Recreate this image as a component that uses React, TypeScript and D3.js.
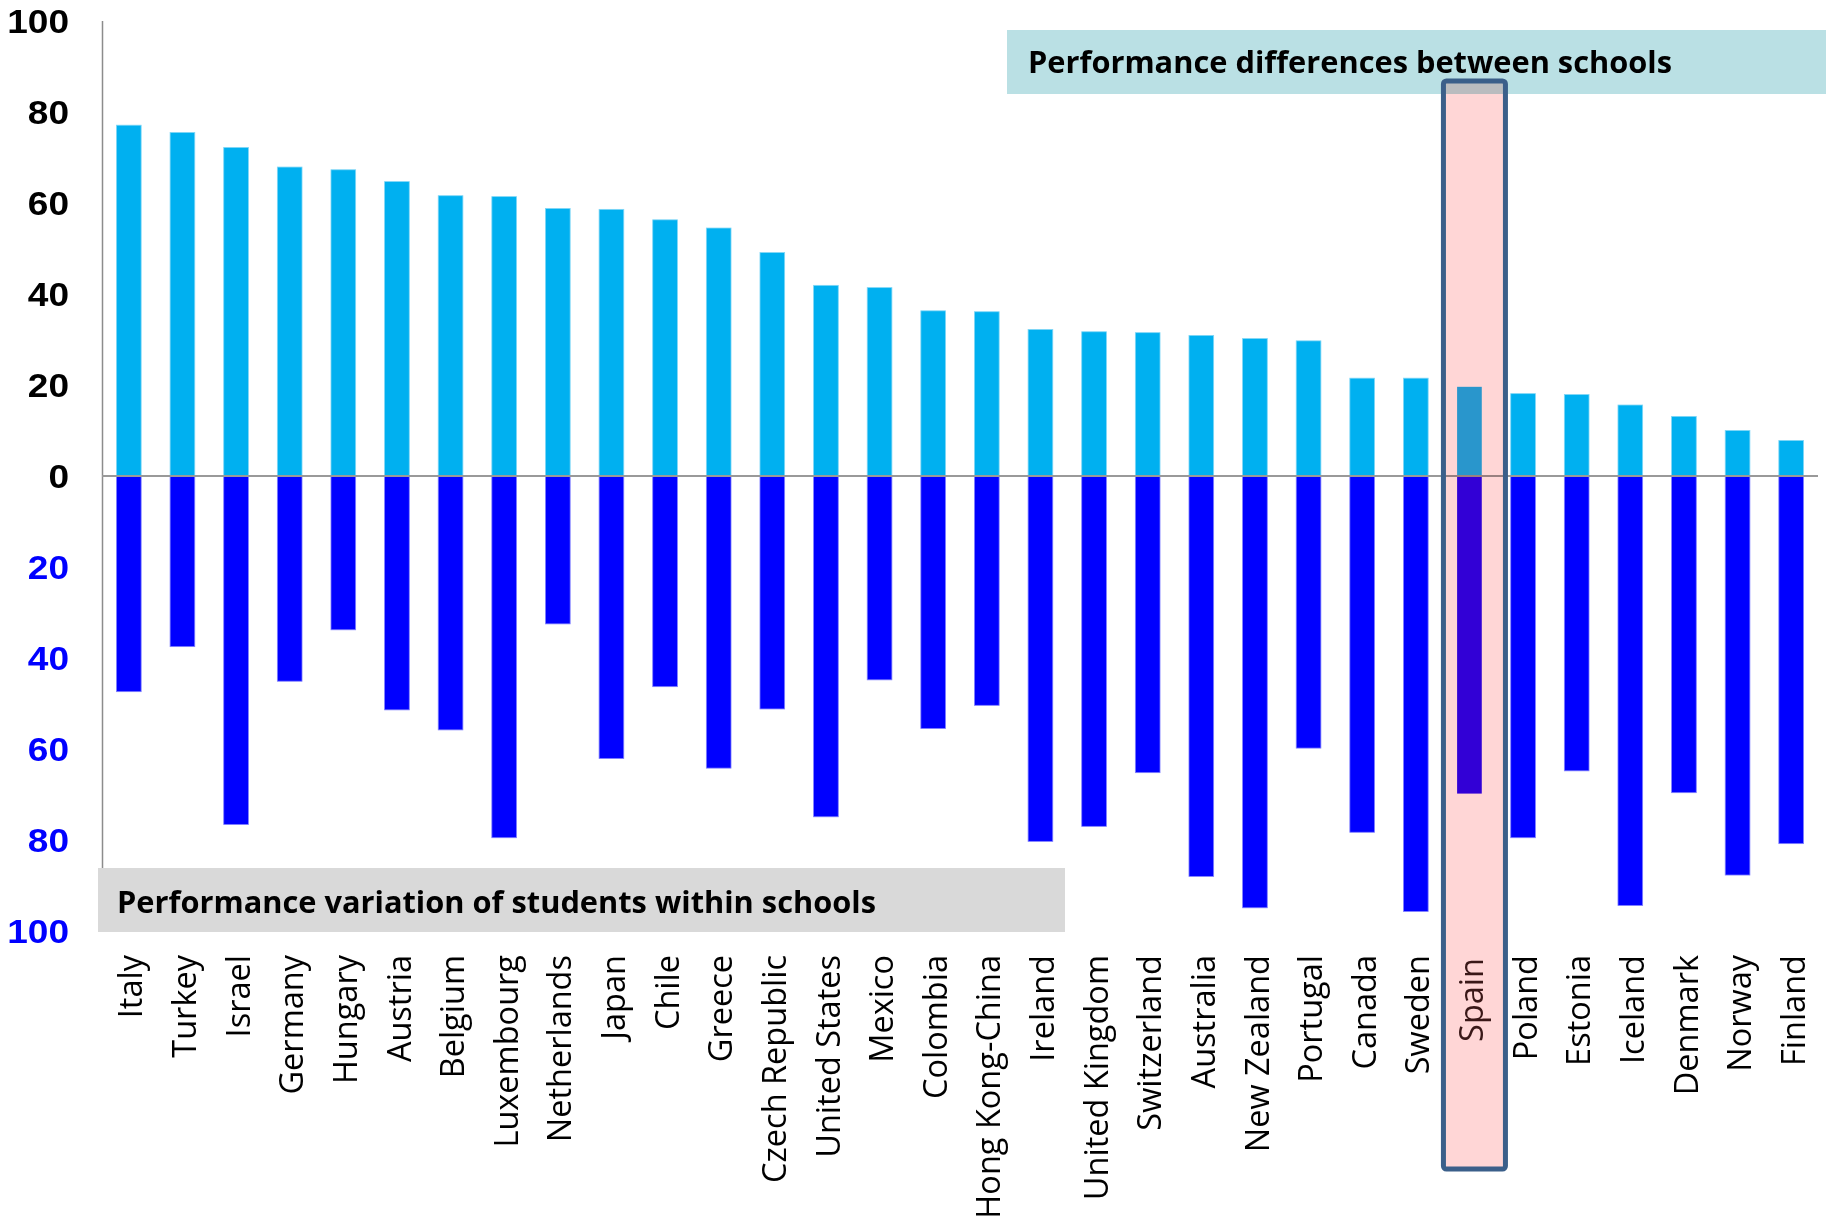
import React from "react";
import * as d3 from "d3";

const countries = [
  "Italy", "Turkey", "Israel", "Germany", "Hungary", "Austria", "Belgium", "Luxembourg",
  "Netherlands", "Japan", "Chile", "Greece", "Czech Republic", "United States", "Mexico",
  "Colombia", "Hong Kong-China", "Ireland", "United Kingdom", "Switzerland", "Australia",
  "New Zealand", "Portugal", "Canada", "Sweden", "Spain", "Poland", "Estonia", "Iceland",
  "Denmark", "Norway", "Finland",
];

// Performance differences between schools (upward bars)
const betweenSchools = [
  77.1, 75.5, 72.2, 67.9, 67.3, 64.7, 61.6, 61.4, 58.8, 58.6, 56.3, 54.5, 49.1, 41.9, 41.4,
  36.3, 36.1, 32.2, 31.7, 31.5, 30.9, 30.2, 29.7, 21.5, 21.5, 19.6, 18.1, 17.9, 15.6, 13.1,
  10.0, 7.8,
];

// Performance variation of students within schools (downward bars)
const withinSchools = [
  47.4, 37.5, 76.6, 45.1, 33.8, 51.4, 55.8, 79.5, 32.5, 62.1, 46.3, 64.2, 51.2, 74.9, 44.8,
  55.5, 50.4, 80.3, 77.0, 65.2, 88.0, 94.9, 59.8, 78.3, 95.7, 69.8, 79.5, 64.8, 94.4, 69.6,
  87.7, 80.8,
];

const upperTicks = [0, 20, 40, 60, 80, 100];
const lowerTicks = [20, 40, 60, 80, 100];

const highlighted = "Spain";
const topBannerText = "Performance differences between schools";
const bottomBannerText = "Performance variation of students within schools";

export default function App() {
  const W = 1826;
  const H = 1218;
  const x = d3
    .scaleBand<string>()
    .domain(countries)
    .range([102, 1818])
    .paddingInner(0.54)
    .paddingOuter(0.27);
  const y = d3.scaleLinear().domain([-100, 100]).range([931, 21]);
  const bw = x.bandwidth();
  const y0 = y(0);
  const hx = (x(highlighted) as number) + bw / 2;

  const tickText = (t: number, v: number, color: string, key: string) => (
    <text
      key={key}
      transform={`translate(69,${y(v)}) scale(1.09,1)`}
      dy="0.36em"
      textAnchor="end"
      fontFamily="'Liberation Sans', Arial, sans-serif"
      fontWeight={700}
      fontSize={34}
      fill={color}
    >
      {t}
    </text>
  );

  return (
    <svg
      width={W}
      height={H}
      style={{ position: "absolute", left: 0, top: 0, background: "#fff" }}
    >
      <rect x={0} y={0} width={W} height={H} fill="#fff" />
      {/* top banner */}
      <rect x={1007} y={30} width={W - 1007} height={64} fill="#BAE0E4" />
      <text
        x={1028}
        y={73}
        fontFamily="'Open Sans', sans-serif"
        fontWeight={700}
        fontSize={30}
        textLength={644}
        lengthAdjust="spacingAndGlyphs"
        fill="#000"
      >
        {topBannerText}
      </text>

      {/* y axis */}
      <line x1={102.5} x2={102.5} y1={y(100)} y2={y(-100)} stroke="#8c8c8c" strokeWidth={1.5} />

      {/* bars */}
      {countries.map((c, i) => {
        const bx = x(c) as number;
        const isH = c === highlighted;
        return (
          <g key={c}>
            <rect
              x={bx}
              y={y(betweenSchools[i])}
              width={bw}
              height={y0 - y(betweenSchools[i])}
              fill={isH ? "#29B3F3" : "#00B0F0"}
              stroke={isH ? "none" : "#7fd6f6"}
              strokeWidth={0.8}
            />
            <rect
              x={bx}
              y={y0}
              width={bw}
              height={y(-withinSchools[i]) - y0}
              fill={isH ? "#3200FF" : "#0000FF"}
              stroke={isH ? "none" : "#8080ff"}
              strokeWidth={0.8}
            />
          </g>
        );
      })}

      {/* zero line */}
      <line x1={102} x2={1818} y1={y0} y2={y0} stroke="#999" strokeWidth={2} />

      {/* tick labels */}
      {upperTicks.map((t) => tickText(t, t, "#000", "u" + t))}
      {lowerTicks.map((t) => tickText(t, -t, "#0000FF", "l" + t))}

      {/* bottom banner */}
      <rect x={98} y={868} width={1065 - 98} height={64} fill="#D9D9D9" />
      <text
        x={117}
        y={913}
        fontFamily="'Open Sans', sans-serif"
        fontWeight={700}
        fontSize={30}
        textLength={759}
        lengthAdjust="spacingAndGlyphs"
        fill="#000"
      >
        {bottomBannerText}
      </text>

      {/* country labels */}
      {countries.map((c) => {
        const cx = (x(c) as number) + bw / 2;
        return (
          <text
            key={"lab" + c}
            transform={`translate(${cx},${c === highlighted ? 958 : 955}) rotate(-90)`}
            textAnchor="end"
            dy="0.42em"
            fontFamily="'Open Sans', sans-serif"
            fontSize={32.5}
            fill={c === highlighted ? "#3a1c1c" : "#000"}
          >
            {c}
          </text>
        );
      })}

      {/* highlight box for Spain */}
      <rect
        x={hx - 26}
        y={81}
        width={62}
        height={1169 - 81}
        rx={3}
        fill="#FFD6D6"
        style={{ mixBlendMode: "multiply" }}
      />
      <rect
        x={hx - 26}
        y={81}
        width={62}
        height={1169 - 81}
        rx={3}
        fill="none"
        stroke="#3B5F8A"
        strokeWidth={5}
      />
    </svg>
  );
}
